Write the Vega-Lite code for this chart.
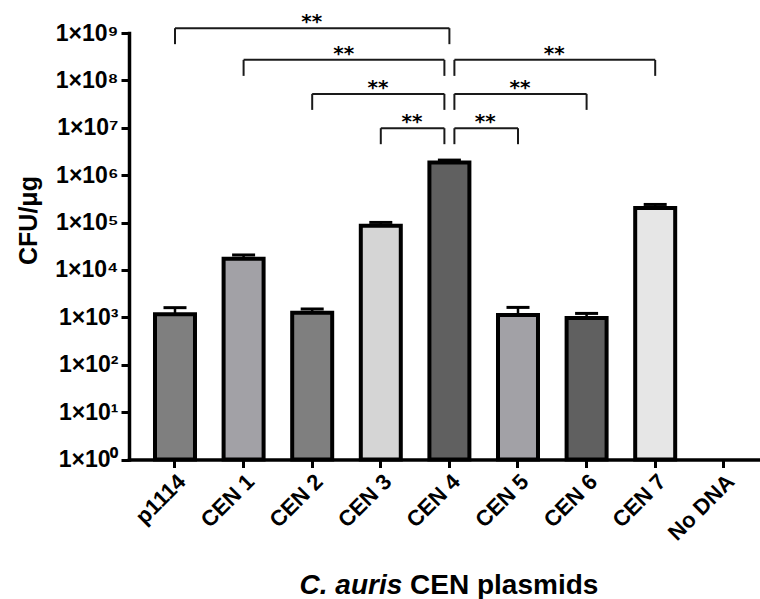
{
  "$schema": "https://vega.github.io/schema/vega-lite/v6.json",
  "width": 631,
  "height": 426.5,
  "autosize": "none",
  "padding": {"left": 129, "top": 33, "right": 0, "bottom": 139.5},
  "background": "white",
  "config": {
    "view": {"stroke": null},
    "font": "Liberation Sans",
    "axis": {"grid": false}
  },
  "datasets": {
    "bars": [
      {"plasmid": "p1114", "cfu": 1160, "upper": 1600},
      {"plasmid": "CEN 1", "cfu": 17300, "upper": 20700},
      {"plasmid": "CEN 2", "cfu": 1255, "upper": 1500},
      {"plasmid": "CEN 3", "cfu": 86100, "upper": 100600},
      {"plasmid": "CEN 4", "cfu": 1840000, "upper": 2080000},
      {"plasmid": "CEN 5", "cfu": 1120, "upper": 1620},
      {"plasmid": "CEN 6", "cfu": 970, "upper": 1210},
      {"plasmid": "CEN 7", "cfu": 204000, "upper": 241000}
    ],
    "brackets": [
      {"from": "p1114", "to": "CEN 4", "side": "outer", "y": 1265000000, "mid": 1.993},
      {"from": "CEN 1", "to": "CEN 4", "side": "left", "y": 271000000, "mid": 2.461},
      {"from": "CEN 4", "to": "CEN 7", "side": "right", "y": 271000000, "mid": 5.529},
      {"from": "CEN 2", "to": "CEN 4", "side": "left", "y": 51900000, "mid": 2.96},
      {"from": "CEN 4", "to": "CEN 6", "side": "right", "y": 51900000, "mid": 5.03},
      {"from": "CEN 3", "to": "CEN 4", "side": "left", "y": 9800000, "mid": 3.455},
      {"from": "CEN 4", "to": "CEN 5", "side": "right", "y": 9800000, "mid": 4.523}
    ]
  },
  "layer": [
    {
      "layer": [
        {
          "data": {"name": "bars"},
          "mark": {"type": "bar", "stroke": "black", "strokeWidth": 4},
          "encoding": {
            "x": {
              "field": "plasmid", "type": "nominal", "sort": null,
              "scale": {"domain": ["p1114", "CEN 1", "CEN 2", "CEN 3", "CEN 4", "CEN 5", "CEN 6", "CEN 7", "No DNA"], "paddingInner": 0.417, "paddingOuter": 0.3076, "align": 0.616},
              "axis": {
                "title": "CEN plasmids", "titleX": 374.7, "titleY": 133.5, "titleBaseline": "alphabetic",
                "titleFontSize": 28, "titleFontWeight": "bold", "titleColor": "black",
                "labelAngle": -45, "labelFontSize": 22, "labelFontWeight": "bold", "labelColor": "black", "labelPadding": 3,
                "domainColor": "black", "domainWidth": 3.5, "domainCap": "square",
                "ticks": true, "tickColor": "black", "tickWidth": 3, "tickSize": 8
              }
            },
            "y": {
              "field": "cfu", "type": "quantitative",
              "scale": {"type": "log", "domain": [1, 1000000000], "nice": false},
              "axis": {
                "values": [1, 10, 100, 1000, 10000, 100000, 1000000, 10000000, 100000000, 1000000000],
                "labelExpr": "'1×10' + ['⁰','¹','²','³','⁴','⁵','⁶','⁷','⁸','⁹'][round(log(datum.value)/LN10)]",
                "labelFontSize": 23, "labelFontWeight": "bold", "labelColor": "black", "labelPadding": 3,
                "title": "CFU/μg", "titleFontSize": 25, "titleFontWeight": "bold", "titleColor": "black",
                "titleX": -101, "titleY": 187, "titleAngle": -90, "titleBaseline": "middle", "titleAlign": "center",
                "domainColor": "black", "domainWidth": 3.5, "domainCap": "square",
                "tickColor": "black", "tickWidth": 3, "tickSize": 8
              }
            },
            "y2": {"datum": 1},
            "color": {
              "field": "plasmid", "type": "nominal",
              "scale": {"domain": ["p1114", "CEN 1", "CEN 2", "CEN 3", "CEN 4", "CEN 5", "CEN 6", "CEN 7"], "range": ["#7f7f7f", "#a2a1a6", "#7f7f7f", "#d5d5d5", "#606060", "#a2a1a6", "#606060", "#e6e6e6"]},
              "legend": null
            }
          }
        },
        {
          "data": {"name": "bars"},
          "mark": {"type": "rule", "strokeWidth": 2.5, "color": "black"},
          "encoding": {
            "x": {"field": "plasmid", "type": "nominal", "sort": null, "scale": {"domain": ["p1114", "CEN 1", "CEN 2", "CEN 3", "CEN 4", "CEN 5", "CEN 6", "CEN 7", "No DNA"], "paddingInner": 0.417, "paddingOuter": 0.3076, "align": 0.616}},
            "y": {"field": "cfu", "type": "quantitative", "scale": {"type": "log", "domain": [1, 1000000000], "nice": false}},
            "y2": {"field": "upper"}
          }
        },
        {
          "data": {"name": "bars"},
          "mark": {"type": "tick", "size": 23, "thickness": 3, "color": "black", "opacity": 1},
          "encoding": {
            "x": {"field": "plasmid", "type": "nominal", "sort": null, "scale": {"domain": ["p1114", "CEN 1", "CEN 2", "CEN 3", "CEN 4", "CEN 5", "CEN 6", "CEN 7", "No DNA"], "paddingInner": 0.417, "paddingOuter": 0.3076, "align": 0.616}},
            "y": {"field": "upper", "type": "quantitative", "scale": {"type": "log", "domain": [1, 1000000000], "nice": false}}
          }
        },
        {
          "data": {"name": "brackets"},
          "transform": [{"filter": "datum.side == 'outer'"}],
          "mark": {"type": "rule", "strokeWidth": 2, "color": "#1a1a1a"},
          "encoding": {
            "x": {"field": "from", "type": "nominal", "sort": null, "scale": {"domain": ["p1114", "CEN 1", "CEN 2", "CEN 3", "CEN 4", "CEN 5", "CEN 6", "CEN 7", "No DNA"], "paddingInner": 0.417, "paddingOuter": 0.3076, "align": 0.616}},
            "x2": {"field": "to"},
            "y": {"field": "y", "type": "quantitative", "scale": {"type": "log", "domain": [1, 1000000000], "nice": false}}
          }
        },
        {
          "data": {"name": "brackets"},
          "transform": [{"filter": "datum.side == 'left'"}],
          "mark": {"type": "rule", "strokeWidth": 2, "color": "#1a1a1a", "x2Offset": -5},
          "encoding": {
            "x": {"field": "from", "type": "nominal", "sort": null, "scale": {"domain": ["p1114", "CEN 1", "CEN 2", "CEN 3", "CEN 4", "CEN 5", "CEN 6", "CEN 7", "No DNA"], "paddingInner": 0.417, "paddingOuter": 0.3076, "align": 0.616}},
            "x2": {"field": "to"},
            "y": {"field": "y", "type": "quantitative", "scale": {"type": "log", "domain": [1, 1000000000], "nice": false}}
          }
        },
        {
          "data": {"name": "brackets"},
          "transform": [{"filter": "datum.side == 'right'"}],
          "mark": {"type": "rule", "strokeWidth": 2, "color": "#1a1a1a", "xOffset": 5},
          "encoding": {
            "x": {"field": "from", "type": "nominal", "sort": null, "scale": {"domain": ["p1114", "CEN 1", "CEN 2", "CEN 3", "CEN 4", "CEN 5", "CEN 6", "CEN 7", "No DNA"], "paddingInner": 0.417, "paddingOuter": 0.3076, "align": 0.616}},
            "x2": {"field": "to"},
            "y": {"field": "y", "type": "quantitative", "scale": {"type": "log", "domain": [1, 1000000000], "nice": false}}
          }
        },
        {
          "data": {"name": "brackets"},
          "transform": [{"filter": "datum.side != 'right'"}],
          "mark": {"type": "rule", "strokeWidth": 2, "color": "#1a1a1a", "y2Offset": 16},
          "encoding": {
            "x": {"field": "from", "type": "nominal", "sort": null, "scale": {"domain": ["p1114", "CEN 1", "CEN 2", "CEN 3", "CEN 4", "CEN 5", "CEN 6", "CEN 7", "No DNA"], "paddingInner": 0.417, "paddingOuter": 0.3076, "align": 0.616}},
            "y": {"field": "y", "type": "quantitative", "scale": {"type": "log", "domain": [1, 1000000000], "nice": false}},
            "y2": {"field": "y"}
          }
        },
        {
          "data": {"name": "brackets"},
          "transform": [{"filter": "datum.side == 'right'"}],
          "mark": {"type": "rule", "strokeWidth": 2, "color": "#1a1a1a", "y2Offset": 16, "xOffset": 5},
          "encoding": {
            "x": {"field": "from", "type": "nominal", "sort": null, "scale": {"domain": ["p1114", "CEN 1", "CEN 2", "CEN 3", "CEN 4", "CEN 5", "CEN 6", "CEN 7", "No DNA"], "paddingInner": 0.417, "paddingOuter": 0.3076, "align": 0.616}},
            "y": {"field": "y", "type": "quantitative", "scale": {"type": "log", "domain": [1, 1000000000], "nice": false}},
            "y2": {"field": "y"}
          }
        },
        {
          "data": {"name": "brackets"},
          "transform": [{"filter": "datum.side != 'left'"}],
          "mark": {"type": "rule", "strokeWidth": 2, "color": "#1a1a1a", "y2Offset": 16},
          "encoding": {
            "x": {"field": "to", "type": "nominal", "sort": null, "scale": {"domain": ["p1114", "CEN 1", "CEN 2", "CEN 3", "CEN 4", "CEN 5", "CEN 6", "CEN 7", "No DNA"], "paddingInner": 0.417, "paddingOuter": 0.3076, "align": 0.616}},
            "y": {"field": "y", "type": "quantitative", "scale": {"type": "log", "domain": [1, 1000000000], "nice": false}},
            "y2": {"field": "y"}
          }
        },
        {
          "data": {"name": "brackets"},
          "transform": [{"filter": "datum.side == 'left'"}],
          "mark": {"type": "rule", "strokeWidth": 2, "color": "#1a1a1a", "y2Offset": 16, "xOffset": -5},
          "encoding": {
            "x": {"field": "to", "type": "nominal", "sort": null, "scale": {"domain": ["p1114", "CEN 1", "CEN 2", "CEN 3", "CEN 4", "CEN 5", "CEN 6", "CEN 7", "No DNA"], "paddingInner": 0.417, "paddingOuter": 0.3076, "align": 0.616}},
            "y": {"field": "y", "type": "quantitative", "scale": {"type": "log", "domain": [1, 1000000000], "nice": false}},
            "y2": {"field": "y"}
          }
        }
      ]
    },
    {
      "data": {"name": "brackets"},
      "mark": {"type": "text", "text": "**", "font": "DejaVu Sans", "fontWeight": "bold", "fontSize": 20, "baseline": "alphabetic", "align": "center", "color": "black"},
      "encoding": {
        "x": {
          "field": "mid", "type": "quantitative",
          "scale": {"domain": [-0.6706, 8.5277], "nice": false, "zero": false},
          "axis": {
            "orient": "top", "title": "C. auris", "titleFontStyle": "italic", "titleFontWeight": "bold", "titleFontSize": 28, "titleColor": "black",
            "titleX": 221.4, "titleY": 560, "titleBaseline": "alphabetic", "titleAlign": "center",
            "domain": false, "ticks": false, "labels": false, "grid": false
          }
        },
        "y": {"field": "y", "type": "quantitative", "scale": {"type": "log", "domain": [1, 1000000000], "nice": false}}
      }
    }
  ],
  "resolve": {"scale": {"x": "independent"}, "axis": {"x": "independent"}}
}
